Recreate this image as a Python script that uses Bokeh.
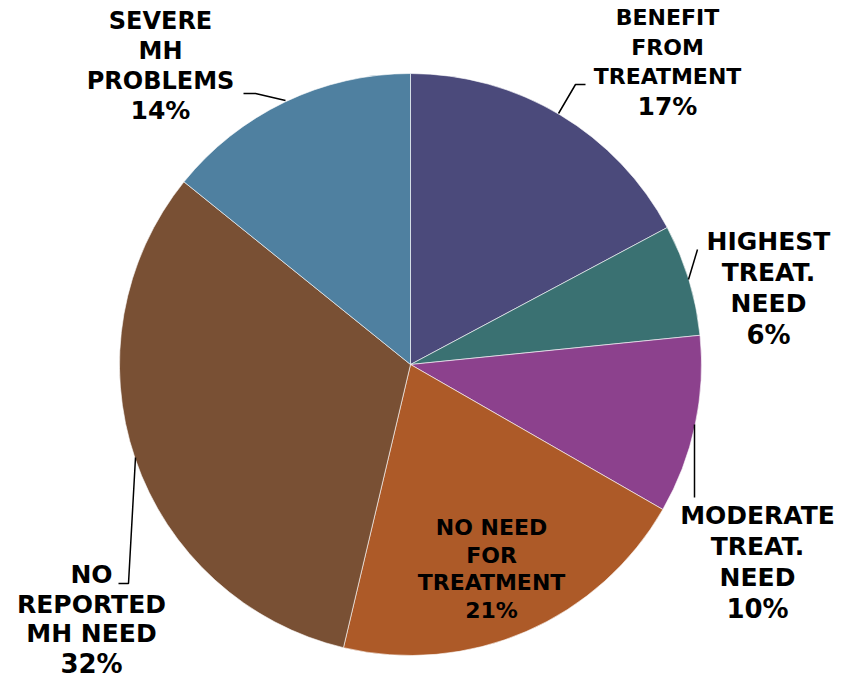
from bokeh.plotting import figure
from bokeh.models import ColumnDataSource, Range1d
from bokeh.core.properties import value
from bokeh.embed import file_html
from bokeh.resources import INLINE
import math

W, H = 851, 679

categories = ["BENEFIT\nFROM\nTREATMENT", "HIGHEST\nTREAT.\nNEED", "MODERATE\nTREAT.\nNEED",
              "NO NEED\nFOR\nTREATMENT", "NO\nREPORTED\nMH NEED", "SEVERE\nMH\nPROBLEMS"]
shares = [17.2, 6.2, 9.9, 20.4, 32.1, 14.2]          # slice sizes
pct_labels = ["17%", "6%", "10%", "21%", "32%", "14%"]  # printed labels
colors = ["#4B4A7B", "#3A7172", "#8C418D", "#AD5A28", "#795034", "#4F80A0"]

# layout (pixel coords from top-left)
cx, cy, R = 410, 364, 291
label_x = [667, 768, 757, 491, 91, 160]
label_y0 = [17, 241, 515, 527, 574, 20]
line_h = [29.5, 31, 31, 27.5, 29.7, 30]
name_size = [22, 25, 25, 22, 25, 24]
pct_size = [25, 26, 26, 22, 26, 25]
leaders = [
    [(585, 84), (575, 84), (558, 113)],
    [(697, 249), (688, 279)],
    [(694, 424), (694, 497)],
    None,
    [(118, 583), (128, 583), (135, 457)],
    [(243, 93), (255, 93), (285, 100)],
]

def fy(y):
    return H - y

p = figure(width=W, height=H, output_backend="svg", toolbar_location=None,
           x_range=Range1d(0, W), y_range=Range1d(0, H), min_border=0)
p.axis.visible = False
p.grid.visible = False
p.outline_line_color = None
p.background_fill_color = "white"
p.border_fill_color = "white"

total = sum(shares)
starts, ends = [], []
cum = 0
for v in shares:
    a0 = math.pi / 2 - 2 * math.pi * cum / total
    cum += v
    a1 = math.pi / 2 - 2 * math.pi * cum / total
    starts.append(a0)
    ends.append(a1)

src = ColumnDataSource(dict(x=[cx] * len(shares), y=[fy(cy)] * len(shares),
                            start=starts, end=ends, color=colors))
p.wedge(x="x", y="y", radius=R, start_angle="start", end_angle="end", direction="clock",
        fill_color="color", line_color="white", line_width=0.6, source=src)

for i, lines in enumerate(leaders):
    if lines:
        p.line([q[0] for q in lines], [fy(q[1]) for q in lines], line_color="black", line_width=1.5)

tx, ty, tt, ts = [], [], [], []
for i, name in enumerate(categories):
    parts = name.split("\n") + [pct_labels[i]]
    for j, s in enumerate(parts):
        tx.append(label_x[i])
        ty.append(fy(label_y0[i] + j * line_h[i]))
        tt.append(s)
        ts.append(f"{pct_size[i] if j == len(parts) - 1 else name_size[i]}px")

tsrc = ColumnDataSource(dict(x=tx, y=ty, text=tt, size=ts))
p.text(x="x", y="y", text="text", text_font_size="size", source=tsrc,
       text_font=value("DejaVu Sans"), text_font_style="bold", text_color="black",
       text_align="center", text_baseline="middle")

open("out.html", "w").write(file_html(p, INLINE))
